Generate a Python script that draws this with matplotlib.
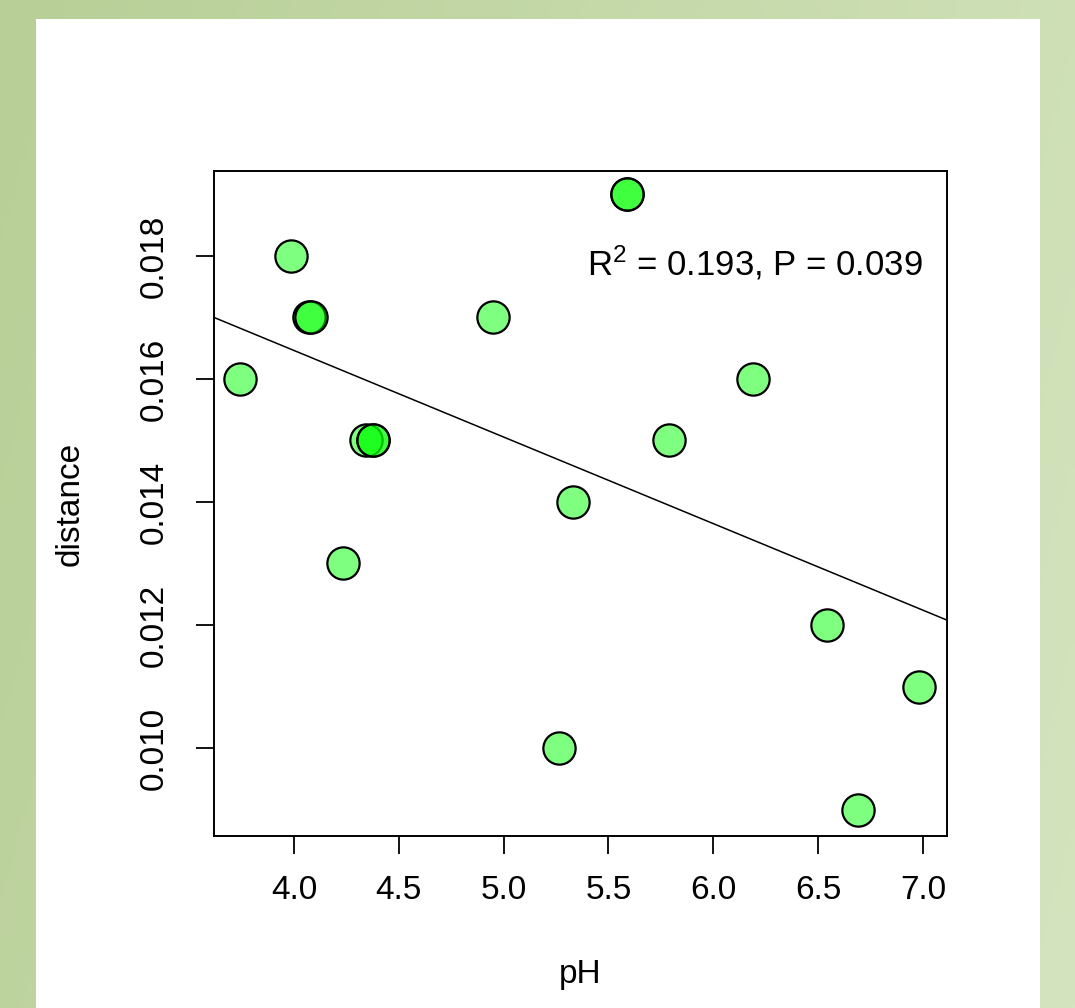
import numpy as np
import matplotlib
matplotlib.use("Agg")
import matplotlib.pyplot as plt
from matplotlib.patches import Rectangle

plt.rcParams['font.family'] = ['Liberation Sans', 'DejaVu Sans']
plt.rcParams['mathtext.fontset'] = 'custom'
plt.rcParams['mathtext.rm'] = 'Liberation Sans'
plt.rcParams['mathtext.it'] = 'Liberation Sans'

# data
ph = [3.74, 3.985, 4.07, 4.08, 4.233, 4.343, 4.376, 4.376, 4.949,
      5.263, 5.33, 5.59, 5.59, 5.787, 6.188, 6.543, 6.69, 6.98]
distance = [0.016, 0.018, 0.017, 0.017, 0.013, 0.015, 0.015, 0.015, 0.017,
            0.010, 0.014, 0.019, 0.019, 0.015, 0.016, 0.012, 0.009, 0.011]

# fitted line (abline) coefficients
fit_intercept = 0.02209
fit_slope = -0.001407
annot = "R$^2$ = 0.193, P = 0.039"

xticks = [4.0, 4.5, 5.0, 5.5, 6.0, 6.5, 7.0]
yticks = [0.010, 0.012, 0.014, 0.016, 0.018]

fig = plt.figure(figsize=(10.75, 10.08), dpi=100)

# green gradient backdrop
bg = fig.add_axes([0, 0, 1, 1])
gx = np.linspace(0, 1, 200)
gy = np.linspace(0, 1, 200)
GX, GY = np.meshgrid(gx, gy)
left_col = np.array([184, 207, 151]) / 255
right_col = np.array([212, 228, 190]) / 255
t = np.clip(0.8 * GX + 0.2 * GY, 0, 1)[..., None]
img = left_col * (1 - t) + right_col * t
bg.imshow(img, extent=[0, 1, 0, 1], aspect='auto', origin='upper')
bg.add_patch(Rectangle((36 / 1075, 0), (1040 - 36) / 1075, (1008 - 19) / 1008,
                       facecolor='white', edgecolor='none'))
bg.set_xlim(0, 1)
bg.set_ylim(0, 1)
bg.axis('off')

ax = fig.add_axes([214 / 1075, 172 / 1008, 733 / 1075, 665 / 1008])
ax.set_facecolor('none')

ax.scatter(ph, distance, s=540, facecolors=(0, 1, 0, 0.5), edgecolors='black',
           linewidths=1.6, zorder=3)

xl = np.array([3.618, 7.115])
ax.plot(xl, fit_intercept + fit_slope * xl, color='black', lw=1.1, zorder=2)

ax.set_xlim(3.618, 7.115)
ax.set_ylim(0.00857, 0.01938)
ax.set_xticks(xticks)
ax.set_xticklabels(["%.1f" % v for v in xticks])
ax.set_yticks(yticks)
ax.set_yticklabels(["%.3f" % v for v in yticks], rotation=90, va='center')

ax.tick_params(direction='out', length=13, width=1.3, labelsize=24, colors='black')
ax.tick_params(axis='x', pad=15)
ax.tick_params(axis='y', pad=19)
for sp in ax.spines.values():
    sp.set_linewidth(1.4)

ax.set_xlabel("pH", fontsize=24, labelpad=38)
ax.set_ylabel("distance", fontsize=24, labelpad=38)

ax.text(0.738, 0.862, annot, transform=ax.transAxes, fontsize=25,
        ha='center', va='center')

fig.savefig("out.png", dpi=100)
